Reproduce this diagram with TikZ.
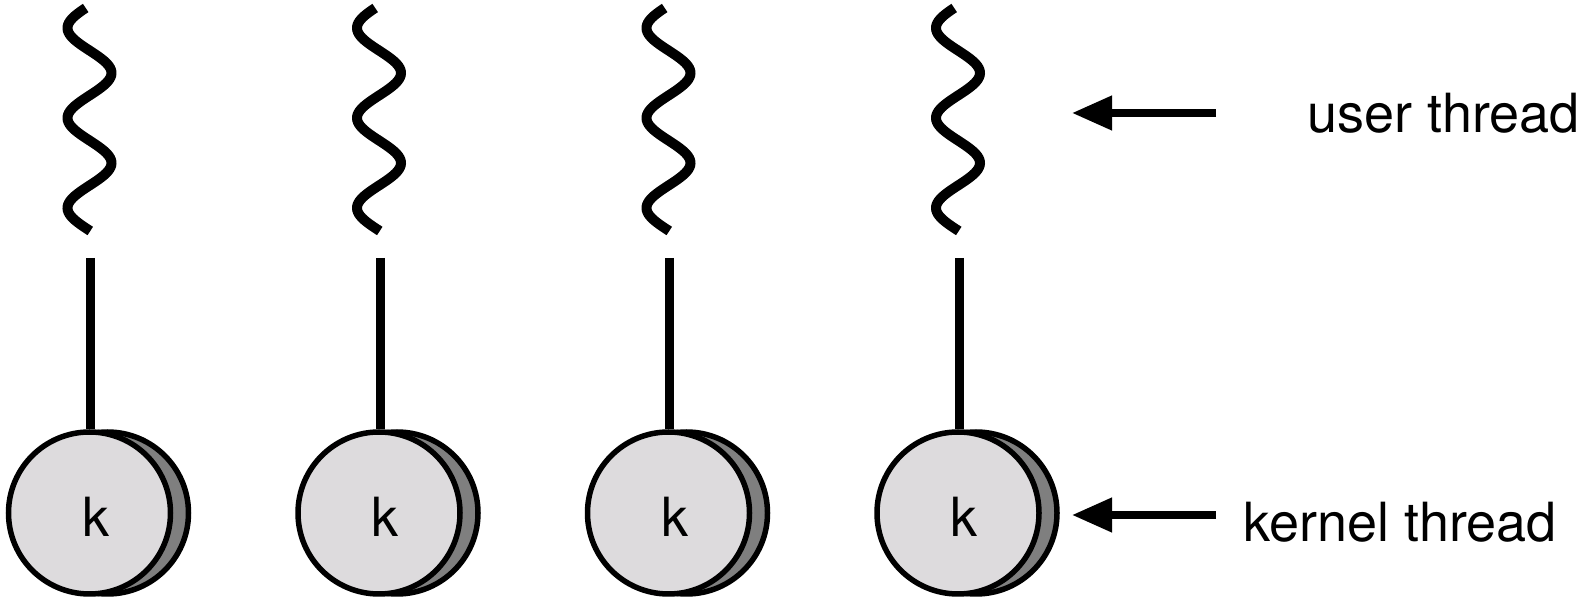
\documentclass[tikz,border=0pt]{standalone}
\usepackage{fontspec}
\setmainfont{TeX Gyre Heros}
\usetikzlibrary{arrows.meta,calc}
\definecolor{disk}{HTML}{DDDBDD}
\definecolor{diskside}{HTML}{7F7F7F}
\begin{document}
\begin{tikzpicture}[x=0.5pt,y=-0.5pt,
  wave/.style={line width=5pt},
  stem/.style={line width=4.5pt},
  disc/.style={circle,draw,line width=2.75pt,fill=disk,minimum size=81pt,inner sep=0pt},
  ktext/.style={anchor=base,inner sep=0pt,font=\fontsize{27pt}{31pt}\selectfont},
  lbl/.style={anchor=base west,inner sep=0pt,font=\fontsize{27pt}{31pt}\selectfont},
  pointer/.style={line width=3.75pt,-{Triangle[length=20pt,width=16.5pt]}}]
\useasboundingbox (0,0) rectangle (1585,597);
\foreach \i/\xc in {1/89.5,2/379,3/668.5,4/958}{
  % user thread (wavy line)
  \draw[wave] plot[domain=8:231,samples=120,smooth] ({\xc-22*cos(4*(\x-28))},\x);
  % disk side (shadow)
  \fill[diskside] (\xc+18,513) circle[radius=40.5pt];
  \draw[line width=2.75pt] (\xc+18,513) circle[radius=40.5pt];
  % kernel thread disk
  \node[disc] (k\i) at (\xc,513) {};
  \node[ktext] (kl\i) at ($(k\i.center)+(6,24)$) {k};
  % connector
  \coordinate (t\i) at (\xc+1,258);
  \draw[stem] (t\i) -- (t\i |- k\i.north);
}
\coordinate (ua) at (1216,113);
\coordinate (ub) at (1072,113);
\coordinate (ka) at (1216,515);
\coordinate (kb) at (1072,515);
\draw[pointer] (ua) -- (ub);
\draw[pointer] (ka) -- (kb);
\node[lbl] (ut) at (1307,133) {user thread};
\node[lbl] (kt) at (1243,542) {kernel thread};
\end{tikzpicture}
\end{document}
